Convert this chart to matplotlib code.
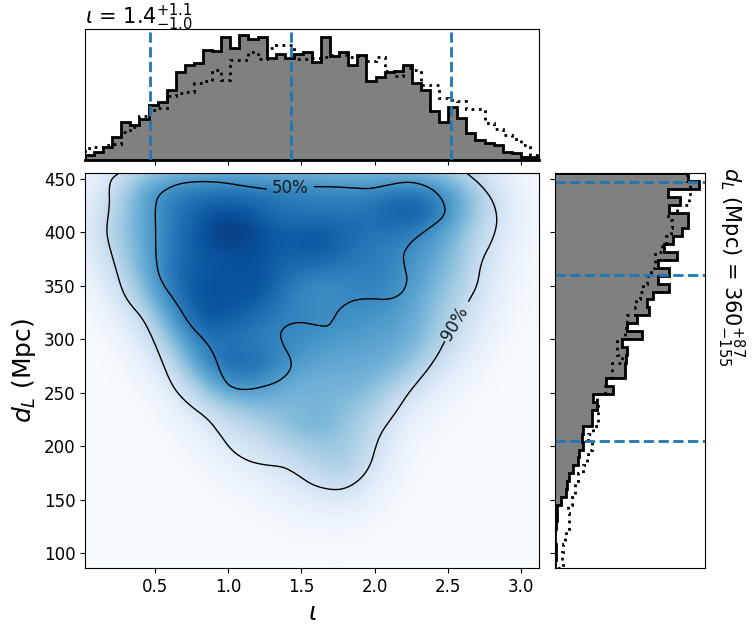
import numpy as np
import matplotlib
matplotlib.use("Agg")
import matplotlib.pyplot as plt

XLIM = (0.022, 3.123)
YLIM = (86.4, 455.6)

# density grid (rows top-down)
density_x = [0.0, 0.2, 0.4, 0.6, 0.8, 1.0, 1.2, 1.4, 1.6, 1.8, 2.0, 2.2, 2.4, 2.6, 2.8, 3.0, 3.2]
density_y = [480, 460, 440, 420, 400, 380, 360, 340, 320, 300, 280, 260, 240, 220, 200, 180, 160, 140, 120, 100, 80]
density = [
    [.02, .10, .26, .34, .38, .40, .40, .38, .38, .36, .36, .36, .32, .24, .10, .02, .01],
    [.03, .12, .30, .38, .42, .44, .44, .42, .42, .40, .40, .40, .35, .28, .12, .03, .01],
    [.05, .20, .52, .68, .72, .74, .72, .70, .68, .66, .66, .72, .68, .48, .22, .05, .02],
    [.06, .28, .52, .70, .82, .88, .82, .72, .72, .72, .76, .88, .78, .52, .25, .06, .02],
    [.07, .30, .52, .70, .86, 1.0, .90, .82, .87, .80, .74, .72, .62, .42, .20, .05, .02],
    [.05, .25, .50, .72, .84, .88, .88, .80, .86, .76, .70, .66, .55, .38, .16, .04, .01],
    [.03, .18, .46, .74, .86, .86, .90, .76, .68, .68, .70, .64, .50, .35, .13, .03, .01],
    [.02, .10, .36, .68, .88, .88, .86, .70, .62, .66, .68, .60, .45, .30, .10, .02, .01],
    [.01, .05, .22, .56, .86, .84, .76, .68, .66, .64, .60, .56, .42, .24, .07, .015, .005],
    [.005, .02, .12, .40, .72, .74, .68, .66, .62, .58, .56, .52, .38, .18, .04, .01, 0],
    [0, .01, .06, .24, .62, .80, .78, .64, .54, .52, .52, .46, .28, .10, .02, .005, 0],
    [0, .005, .03, .12, .42, .66, .66, .52, .48, .50, .46, .32, .14, .05, .01, 0, 0],
    [0, 0, .01, .06, .22, .40, .46, .44, .48, .44, .36, .16, .06, .02, .005, 0, 0],
    [0, 0, .005, .03, .10, .22, .32, .42, .50, .40, .28, .08, .03, .01, 0, 0, 0],
    [0, 0, 0, .01, .05, .12, .20, .30, .38, .38, .22, .05, .015, .005, 0, 0, 0],
    [0, 0, 0, .005, .02, .06, .11, .18, .28, .38, .14, .03, .01, 0, 0, 0, 0],
    [0, 0, 0, 0, .01, .03, .05, .10, .16, .22, .08, .02, .005, 0, 0, 0, 0],
    [0, 0, 0, 0, .005, .01, .025, .05, .07, .08, .04, .01, 0, 0, 0, 0, 0],
    [0, 0, 0, 0, 0, .005, .01, .02, .025, .03, .015, .005, 0, 0, 0, 0, 0],
    [0, 0, 0, 0, 0, 0, .003, .005, .008, .01, .005, 0, 0, 0, 0, 0, 0],
    [0, 0, 0, 0, 0, 0, 0, 0, 0, 0, 0, 0, 0, 0, 0, 0, 0],
]

# credible-region outlines
c90_a_x = [0.254, 0.202, 0.186, 0.191, 0.168, 0.179, 0.225, 0.270, 0.316, 0.407, 0.464, 0.532, 0.589, 0.646, 0.737, 0.862, 0.941, 1.021, 1.123, 1.237, 1.374, 1.465, 1.578, 1.726, 1.828, 1.919, 1.976, 2.006, 2.045, 2.147, 2.227, 2.352, 2.431, 2.477]
c90_a_y = [455.6, 450.3, 441.6, 425.9, 404.0, 391.6, 369.7, 347.8, 335.3, 321.3, 307.2, 285.3, 265.0, 250.9, 238.4, 225.9, 211.9, 196.3, 186.9, 182.8, 181.3, 174.4, 163.4, 158.8, 161.9, 171.3, 183.8, 199.4, 213.4, 232.2, 249.4, 269.7, 285.3, 297.8]
c90_b_x = [2.643, 2.704, 2.727, 2.807, 2.841, 2.818, 2.738, 2.625]
c90_b_y = [335.9, 350.9, 372.8, 393.1, 410.3, 427.5, 443.1, 456.0]
c50_x = [1.590, 1.715, 1.851, 1.965, 2.079, 2.227, 2.352, 2.443, 2.488, 2.465, 2.374, 2.261, 2.192, 2.204, 2.227, 2.192, 2.101, 1.965, 1.851, 1.760, 1.715, 1.681, 1.601, 1.487, 1.396, 1.351, 1.374, 1.430, 1.430, 1.351, 1.237, 1.112, 1.010, 0.953, 0.907, 0.850, 0.737, 0.657, 0.532, 0.505, 0.505, 0.500, 0.532, 0.646, 0.782, 0.941, 1.123, 1.260]
c50_y = [442.8, 442.8, 441.6, 440.6, 444.1, 447.8, 444.1, 435.3, 422.8, 413.4, 404.1, 393.1, 380.6, 368.1, 355.6, 343.1, 336.9, 338.4, 336.9, 329.1, 318.1, 311.9, 313.4, 316.6, 313.4, 305.6, 294.7, 282.2, 271.3, 260.9, 255.6, 252.5, 255.6, 266.6, 285.3, 297.8, 313.4, 332.2, 355.6, 375.9, 400.9, 425.9, 436.9, 445.3, 447.8, 447.2, 443.1, 440.6]

iota_post = [15, 25, 40, 70, 114, 105, 122, 164, 174, 210, 264, 284, 291, 329, 325, 369, 335, 375, 363, 369,
             305, 318, 306, 317, 322, 292, 369, 310, 322, 285, 315, 237, 248, 262, 265, 285, 230, 208, 148, 115,
             158, 126, 82, 60, 52, 44, 24, 20, 8, 8]
iota_prior = [35, 40, 45, 48, 85, 100, 133, 150, 155, 192, 200, 204, 230, 235, 270, 240, 298, 298, 323, 302,
              335, 345, 345, 302, 302, 305, 308, 315, 315, 308, 310, 295, 308, 265, 250, 275, 270, 225, 225, 185,
              180, 177, 152, 152, 112, 92, 75, 62, 45, 15]
dist_post = [398, 432, 340, 375, 342, 398, 398, 382, 355, 328, 365, 310, 342, 310, 342, 295, 275, 282, 245, 217,
             260, 202, 215, 213, 210, 210, 153, 173, 113, 125, 110, 110, 85, 80, 85, 73, 70, 55, 43, 35,
             32, 18, 6, 5, 4, 1, 1, 2, 2, 0]
dist_prior = [395, 405, 405, 402, 365, 340, 350, 348, 332, 320, 300, 300, 288, 275, 265, 255, 242, 240, 215, 213,
              210, 185, 185, 200, 170, 170, 153, 150, 127, 130, 130, 130, 115, 100, 110, 100, 95, 85, 70, 60,
              60, 50, 40, 42, 43, 32, 30, 25, 20, 25]

iota_quantiles = [0.468, 1.430, 2.525]
dist_quantiles = [205, 360, 447]
iota_ticks = [0.5, 1.0, 1.5, 2.0, 2.5, 3.0]
dist_ticks = [100, 150, 200, 250, 300, 350, 400, 450]


def smooth(xs, ys, n=3):
    p = np.column_stack([xs, ys])
    for _ in range(n):
        q = 0.75 * p[:-1] + 0.25 * p[1:]
        r = 0.25 * p[:-1] + 0.75 * p[1:]
        m = np.empty((2 * len(q), 2))
        m[0::2], m[1::2] = q, r
        p = np.vstack([p[0], m, p[-1]])
    return p[:, 0], p[:, 1]


W, H = 753, 635
fig = plt.figure(figsize=(W / 100, H / 100), dpi=100)


def rect(l, t, r, b):
    return [l / W, 1 - b / H, (r - l) / W, (b - t) / H]


ax = fig.add_axes(rect(85, 173, 539, 568))
top = fig.add_axes(rect(85, 29, 539, 160))
right = fig.add_axes(rect(555, 173, 705, 568))

dx = density_x[1] - density_x[0]
dy = density_y[0] - density_y[1]
ax.imshow(density, cmap="Blues", vmin=0, vmax=1, aspect="auto", interpolation="bicubic",
          extent=(density_x[0] - dx / 2, density_x[-1] + dx / 2,
                  density_y[-1] - dy / 2, density_y[0] + dy / 2))
for xs, ys in [(c90_a_x, c90_a_y), (c90_b_x, c90_b_y), (c50_x, c50_y)]:
    sx, sy = smooth(xs, ys)
    ax.plot(sx, sy, color="k", lw=1)
ax.text(1.424, 441.6, "50%", fontsize=12, ha="center", va="center", color="0.1")
ax.text(2.545, 315, "90%", fontsize=12, ha="center", va="center", rotation=60, color="0.1")
ax.set_xlim(*XLIM)
ax.set_ylim(*YLIM)
ax.set_xticks(iota_ticks)
ax.set_yticks(dist_ticks)
ax.tick_params(labelsize=12)
ax.set_xlabel(r"$\iota$", fontsize=18)
ax.set_ylabel(r"$d_L$ (Mpc)", fontsize=18)

x_edges = np.linspace(XLIM[0], XLIM[1], len(iota_post) + 1)
top.stairs(iota_post, x_edges, fill=True, color="grey")
top.stairs(iota_post, x_edges, color="k", lw=2, baseline=0)
top.stairs(iota_prior, x_edges, color="k", lw=2, ls=":")
top.plot(XLIM, [0, 0], color="k", lw=2, clip_on=False)
for v in iota_quantiles:
    top.axvline(v, color="C0", ls="--", lw=2)
top.set_xlim(*XLIM)
top.set_ylim(0, 392)
top.set_xticks(iota_ticks)
top.set_xticklabels([])
top.set_yticks([])
fig.text(85 / W, 1 - 24 / H, r"$\iota$ = $1.4^{+1.1}_{-1.0}$", fontsize=15, ha="left", va="baseline")

y_edges = np.linspace(YLIM[1], YLIM[0], len(dist_post) + 1)
right.stairs(dist_post, y_edges, orientation="horizontal", fill=True, color="grey")
right.stairs(dist_post, y_edges, orientation="horizontal", color="k", lw=2)
right.stairs(dist_prior, y_edges, orientation="horizontal", color="k", lw=2, ls=":")
for v in dist_quantiles:
    right.axhline(v, color="C0", ls="--", lw=2)
right.set_xlim(0, 450)
right.set_ylim(*YLIM)
right.set_xticks([])
right.set_yticks(dist_ticks)
right.set_yticklabels([])

fig.text(731 / W, 1 - 167 / H, r"$d_L$ (Mpc) = $360^{+87}_{-155}$", fontsize=15,
         rotation=270, ha="center", va="top")

fig.savefig("out.png", dpi=100)
